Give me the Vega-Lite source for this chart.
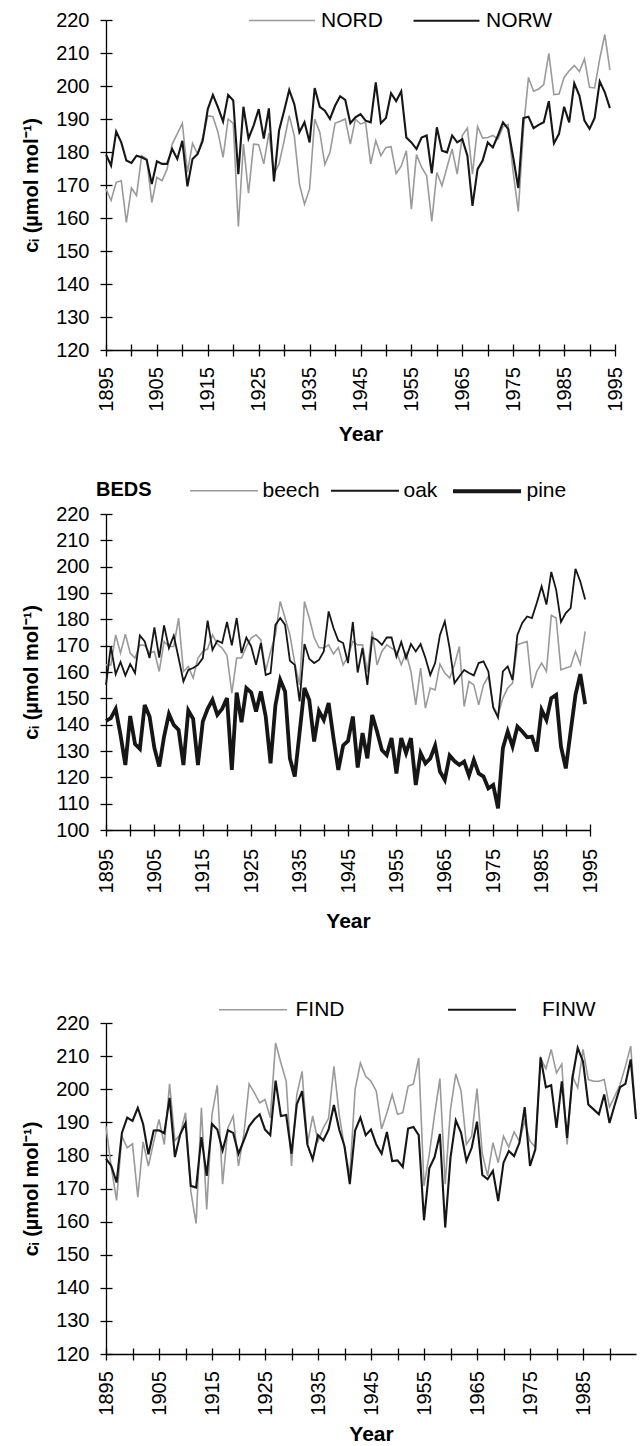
{
  "$schema": "https://vega.github.io/schema/vega-lite/v6.json",
  "padding": {"left": 21, "top": 8, "right": 2, "bottom": 0},
  "background": "white",
  "config": {
    "font": "Liberation Sans",
    "view": {"stroke": null},
    "axis": {"domainColor": "#000", "tickColor": "#000", "labelColor": "#000", "titleColor": "#000", "labelFontSize": 20, "titleFontSize": 21, "titleFontWeight": "bold", "grid": false, "tickSize": 6, "domainWidth": 1.3, "tickWidth": 1.3},
    "axisX": {"labelAngle": -90},
    "axisY": {"labelPadding": 11, "titlePadding": 14, "titleFontSize": 20},
    "legend": {"labelFontSize": 21, "labelColor": "#000", "titleColor": "#000", "padding": 0, "symbolType": "M-3,0H3"}
  },
  "resolve": {"scale": {"color": "independent", "strokeWidth": "independent"}},
  "datasets": {
    "nor": [
      {"year":1895,"NORD":168.8,"NORW":179.2},{"year":1896,"NORD":165.3,"NORW":175.9},{"year":1897,"NORD":170.8,"NORW":186.2},{"year":1898,"NORD":171.3,"NORW":182.9},{"year":1899,"NORD":158.7,"NORW":177.4},
      {"year":1900,"NORD":169.1,"NORW":176.7},{"year":1901,"NORD":166.8,"NORW":178.9},{"year":1902,"NORD":178.9,"NORW":178.4},{"year":1903,"NORD":177.9,"NORW":177.6},{"year":1904,"NORD":164.7,"NORW":170.3},
      {"year":1905,"NORD":172.3,"NORW":177.2},{"year":1906,"NORD":171.3,"NORW":176.4},{"year":1907,"NORD":174.8,"NORW":176.4},{"year":1908,"NORD":182.4,"NORW":180.9},{"year":1909,"NORD":185.5,"NORW":177.9},
      {"year":1910,"NORD":188.7,"NORW":183.4},{"year":1911,"NORD":173.8,"NORW":169.6},{"year":1912,"NORD":182.6,"NORW":177.9},{"year":1913,"NORD":179.4,"NORW":179.4},{"year":1914,"NORD":184.4,"NORW":183.4},
      {"year":1915,"NORD":191.0,"NORW":193.0},{"year":1916,"NORD":190.7,"NORW":197.3},{"year":1917,"NORD":186.0,"NORW":193.5},{"year":1918,"NORD":178.4,"NORW":189.2},{"year":1919,"NORD":190.0,"NORW":197.3},
      {"year":1920,"NORD":188.7,"NORW":195.6},{"year":1921,"NORD":157.4,"NORW":173.3},{"year":1922,"NORD":182.4,"NORW":193.7},{"year":1923,"NORD":167.5,"NORW":184.1},{"year":1924,"NORD":182.4,"NORW":188.0},
      {"year":1925,"NORD":182.2,"NORW":193.0},{"year":1926,"NORD":176.4,"NORW":184.1},{"year":1927,"NORD":185.7,"NORW":193.2},{"year":1928,"NORD":173.3,"NORW":171.1},{"year":1929,"NORD":176.4,"NORW":186.5},
      {"year":1930,"NORD":183.4,"NORW":192.5},{"year":1931,"NORD":191.0,"NORW":198.8},{"year":1932,"NORD":184.9,"NORW":194.5},{"year":1933,"NORD":170.3,"NORW":186.0},{"year":1934,"NORD":164.2,"NORW":189.0},
      {"year":1935,"NORD":168.8,"NORW":182.9},{"year":1936,"NORD":190.0,"NORW":199.4},{"year":1937,"NORD":186.0,"NORW":193.7},{"year":1938,"NORD":176.2,"NORW":192.5},{"year":1939,"NORD":179.9,"NORW":190.0},
      {"year":1940,"NORD":188.7,"NORW":194.0},{"year":1941,"NORD":189.3,"NORW":196.9},{"year":1942,"NORD":190.0,"NORW":195.8},{"year":1943,"NORD":182.4,"NORW":188.7},{"year":1944,"NORD":190.0,"NORW":190.5},
      {"year":1945,"NORD":188.5,"NORW":191.5},{"year":1946,"NORD":189.0,"NORW":189.5},{"year":1947,"NORD":176.4,"NORW":189.0},{"year":1948,"NORD":183.4,"NORW":201.1},{"year":1949,"NORD":178.9,"NORW":188.7},
      {"year":1950,"NORD":181.4,"NORW":190.3},{"year":1951,"NORD":181.6,"NORW":197.8},{"year":1952,"NORD":173.5,"NORW":195.4},{"year":1953,"NORD":175.7,"NORW":198.4},{"year":1954,"NORD":180.4,"NORW":184.4},
      {"year":1955,"NORD":162.7,"NORW":182.9},{"year":1956,"NORD":179.2,"NORW":180.9},{"year":1957,"NORD":175.4,"NORW":184.4},{"year":1958,"NORD":172.8,"NORW":185.0},{"year":1959,"NORD":159.0,"NORW":173.5},
      {"year":1960,"NORD":173.8,"NORW":187.5},{"year":1961,"NORD":169.8,"NORW":180.4},{"year":1962,"NORD":175.4,"NORW":179.9},{"year":1963,"NORD":180.9,"NORW":185.0},{"year":1964,"NORD":173.3,"NORW":182.9},
      {"year":1965,"NORD":185.0,"NORW":183.9},{"year":1966,"NORD":187.3,"NORW":178.9},{"year":1967,"NORD":173.3,"NORW":163.7},{"year":1968,"NORD":187.7,"NORW":174.8},{"year":1969,"NORD":184.2,"NORW":177.4},
      {"year":1970,"NORD":184.4,"NORW":182.9},{"year":1971,"NORD":185.0,"NORW":181.4},{"year":1972,"NORD":183.9,"NORW":185.0},{"year":1973,"NORD":187.7,"NORW":189.0},{"year":1974,"NORD":188.3,"NORW":187.0},
      {"year":1975,"NORD":173.8,"NORW":178.4},{"year":1976,"NORD":162.0,"NORW":169.1},{"year":1977,"NORD":186.7,"NORW":190.3},{"year":1978,"NORD":202.6,"NORW":190.7},{"year":1979,"NORD":198.4,"NORW":187.2},
      {"year":1980,"NORD":199.1,"NORW":188.2},{"year":1981,"NORD":200.4,"NORW":189.0},{"year":1982,"NORD":209.9,"NORW":195.4},{"year":1983,"NORD":197.4,"NORW":182.6},{"year":1984,"NORD":197.6,"NORW":185.5},
      {"year":1985,"NORD":202.6,"NORW":193.7},{"year":1986,"NORD":204.6,"NORW":189.0},{"year":1987,"NORD":206.2,"NORW":200.8},{"year":1988,"NORD":204.4,"NORW":197.1},{"year":1989,"NORD":208.2,"NORW":189.5},
      {"year":1990,"NORD":199.6,"NORW":187.0},{"year":1991,"NORD":199.4,"NORW":190.3},{"year":1992,"NORD":208.2,"NORW":201.4},{"year":1993,"NORD":215.6,"NORW":198.1},{"year":1994,"NORD":204.9,"NORW":193.3}
    ],
    "beds": [
      {"year":1895,"beech":162.7,"oak":155.1,"pine":141.4},{"year":1896,"beech":162.7,"oak":169.7,"pine":142.5},{"year":1897,"beech":174.1,"oak":159.2,"pine":146.0},{"year":1898,"beech":167.2,"oak":163.8,"pine":136.1},{"year":1899,"beech":174.4,"oak":158.7,"pine":124.7},
      {"year":1900,"beech":167.2,"oak":163.0,"pine":143.3},{"year":1901,"beech":165.3,"oak":159.6,"pine":132.6},{"year":1902,"beech":170.3,"oak":173.9,"pine":130.8},{"year":1903,"beech":170.1,"oak":171.6,"pine":147.5},{"year":1904,"beech":167.2,"oak":165.3,"pine":143.1},
      {"year":1905,"beech":167.8,"oak":176.9,"pine":131.1},{"year":1906,"beech":160.2,"oak":165.5,"pine":124.1},{"year":1907,"beech":171.6,"oak":177.7,"pine":135.5},{"year":1908,"beech":169.7,"oak":169.1,"pine":144.1},{"year":1909,"beech":169.7,"oak":173.8,"pine":139.9},
      {"year":1910,"beech":180.5,"oak":165.3,"pine":138.0},{"year":1911,"beech":160.2,"oak":156.4,"pine":124.7},{"year":1912,"beech":162.1,"oak":160.8,"pine":145.4},{"year":1913,"beech":157.7,"oak":161.5,"pine":142.2},{"year":1914,"beech":165.3,"oak":162.7,"pine":124.7},
      {"year":1915,"beech":167.8,"oak":165.3,"pine":141.2},{"year":1916,"beech":168.8,"oak":179.5,"pine":146.0},{"year":1917,"beech":174.1,"oak":168.4,"pine":149.4},{"year":1918,"beech":170.6,"oak":171.9,"pine":143.7},{"year":1919,"beech":169.1,"oak":171.0,"pine":146.0},
      {"year":1920,"beech":166.3,"oak":179.0,"pine":150.1},{"year":1921,"beech":152.0,"oak":170.1,"pine":122.8},{"year":1922,"beech":165.3,"oak":180.5,"pine":152.2},{"year":1923,"beech":165.3,"oak":167.2,"pine":140.9},{"year":1924,"beech":169.7,"oak":173.1,"pine":153.9},
      {"year":1925,"beech":172.9,"oak":169.7,"pine":152.2},{"year":1926,"beech":174.1,"oak":162.7,"pine":145.0},{"year":1927,"beech":172.2,"oak":171.0,"pine":152.6},{"year":1928,"beech":160.5,"oak":158.9,"pine":143.1},{"year":1929,"beech":167.8,"oak":159.6,"pine":125.3},
      {"year":1930,"beech":174.1,"oak":177.9,"pine":147.3},{"year":1931,"beech":186.8,"oak":180.5,"pine":157.0},{"year":1932,"beech":180.5,"oak":177.9,"pine":152.6},{"year":1933,"beech":174.1,"oak":164.3,"pine":127.2},{"year":1934,"beech":163.4,"oak":162.7,"pine":120.3},
      {"year":1935,"beech":155.1,"oak":148.8,"pine":137.0},{"year":1936,"beech":186.8,"oak":170.6,"pine":153.9},{"year":1937,"beech":180.5,"oak":165.0,"pine":149.4},{"year":1938,"beech":173.1,"oak":163.4,"pine":133.6},{"year":1939,"beech":169.3,"oak":164.6,"pine":145.2},
      {"year":1940,"beech":169.1,"oak":167.8,"pine":141.8},{"year":1941,"beech":170.3,"oak":183.0,"pine":148.2},{"year":1942,"beech":166.8,"oak":176.7,"pine":134.9},{"year":1943,"beech":169.3,"oak":171.9,"pine":122.8},{"year":1944,"beech":162.7,"oak":171.0,"pine":132.1},
      {"year":1945,"beech":165.9,"oak":163.4,"pine":133.8},{"year":1946,"beech":171.6,"oak":179.0,"pine":143.1},{"year":1947,"beech":170.3,"oak":159.8,"pine":123.7},{"year":1948,"beech":170.3,"oak":169.1,"pine":136.8},{"year":1949,"beech":160.0,"oak":155.1,"pine":127.2},
      {"year":1950,"beech":175.4,"oak":173.1,"pine":143.7},{"year":1951,"beech":162.7,"oak":172.2,"pine":137.4},{"year":1952,"beech":167.8,"oak":170.3,"pine":130.4},{"year":1953,"beech":170.3,"oak":173.1,"pine":128.5},{"year":1954,"beech":169.1,"oak":173.1,"pine":134.9},
      {"year":1955,"beech":167.8,"oak":165.9,"pine":121.5},{"year":1956,"beech":162.7,"oak":171.4,"pine":134.9},{"year":1957,"beech":167.2,"oak":165.3,"pine":129.2},{"year":1958,"beech":160.2,"oak":170.6,"pine":134.9},{"year":1959,"beech":147.5,"oak":167.8,"pine":117.1},
      {"year":1960,"beech":161.5,"oak":170.6,"pine":129.2},{"year":1961,"beech":146.3,"oak":165.3,"pine":125.3},{"year":1962,"beech":153.9,"oak":158.9,"pine":127.2},{"year":1963,"beech":153.2,"oak":163.4,"pine":132.1},{"year":1964,"beech":163.0,"oak":174.1,"pine":122.2},
      {"year":1965,"beech":159.6,"oak":179.2,"pine":119.0},{"year":1966,"beech":157.7,"oak":169.1,"pine":128.3},{"year":1967,"beech":162.7,"oak":155.8,"pine":126.2},{"year":1968,"beech":169.7,"oak":158.3,"pine":124.7},{"year":1969,"beech":146.9,"oak":160.8,"pine":126.0},
      {"year":1970,"beech":156.4,"oak":159.6,"pine":120.7},{"year":1971,"beech":155.1,"oak":158.7,"pine":126.6},{"year":1972,"beech":147.5,"oak":163.4,"pine":121.5},{"year":1973,"beech":155.1,"oak":164.0,"pine":120.3},{"year":1974,"beech":158.3,"oak":160.2,"pine":115.8},
      {"year":1975,"beech":146.9,"oak":146.5,"pine":117.1},{"year":1976,"beech":143.7,"oak":142.7,"pine":108.2},{"year":1977,"beech":150.1,"oak":160.2,"pine":131.1},{"year":1978,"beech":153.9,"oak":162.1,"pine":137.4},{"year":1979,"beech":155.8,"oak":157.0,"pine":131.7},
      {"year":1980,"beech":170.3,"oak":174.1,"pine":139.3},{"year":1981,"beech":171.0,"oak":178.6,"pine":137.4},{"year":1982,"beech":171.6,"oak":181.1,"pine":135.2},{"year":1983,"beech":153.9,"oak":180.5,"pine":135.5},{"year":1984,"beech":160.2,"oak":186.2,"pine":129.8},
      {"year":1985,"beech":163.4,"oak":192.5,"pine":145.6},{"year":1986,"beech":160.2,"oak":185.6,"pine":141.8},{"year":1987,"beech":181.5,"oak":198.0,"pine":150.1},{"year":1988,"beech":180.5,"oak":191.3,"pine":151.3},{"year":1989,"beech":160.8,"oak":179.0,"pine":131.7},
      {"year":1990,"beech":161.5,"oak":182.4,"pine":123.4},{"year":1991,"beech":162.1,"oak":184.3,"pine":137.4},{"year":1992,"beech":167.8,"oak":199.2,"pine":151.3},{"year":1993,"beech":163.0,"oak":194.4,"pine":159.2},{"year":1994,"beech":175.4,"oak":187.5,"pine":147.8}
    ],
    "fin": [
      {"year":1895,"FIND":188.8,"FINW":179.0},{"year":1896,"FIND":176.3,"FINW":176.8},{"year":1897,"FIND":166.4,"FINW":171.8},{"year":1898,"FIND":185.8,"FINW":186.8},{"year":1899,"FIND":182.3,"FINW":191.4},
      {"year":1900,"FIND":183.5,"FINW":190.4},{"year":1901,"FIND":167.4,"FINW":194.4},{"year":1902,"FIND":184.1,"FINW":189.5},{"year":1903,"FIND":176.8,"FINW":180.3},{"year":1904,"FIND":184.1,"FINW":187.5},
      {"year":1905,"FIND":190.9,"FINW":187.6},{"year":1906,"FIND":183.3,"FINW":186.7},{"year":1907,"FIND":201.6,"FINW":197.4},{"year":1908,"FIND":184.5,"FINW":179.5},{"year":1909,"FIND":186.3,"FINW":186.3},
      {"year":1910,"FIND":192.9,"FINW":189.8},{"year":1911,"FIND":169.2,"FINW":170.8},{"year":1912,"FIND":159.4,"FINW":170.3},{"year":1913,"FIND":194.4,"FINW":185.5},{"year":1914,"FIND":163.7,"FINW":173.8},
      {"year":1915,"FIND":192.4,"FINW":189.5},{"year":1916,"FIND":201.2,"FINW":187.8},{"year":1917,"FIND":171.3,"FINW":181.5},{"year":1918,"FIND":188.3,"FINW":187.6},{"year":1919,"FIND":191.9,"FINW":186.8},
      {"year":1920,"FIND":176.8,"FINW":180.5},{"year":1921,"FIND":186.3,"FINW":184.5},{"year":1922,"FIND":201.6,"FINW":188.8},{"year":1923,"FIND":198.9,"FINW":190.9},{"year":1924,"FIND":195.9,"FINW":192.4},
      {"year":1925,"FIND":196.9,"FINW":187.8},{"year":1926,"FIND":191.4,"FINW":186.1},{"year":1927,"FIND":214.0,"FINW":202.6},{"year":1928,"FIND":207.9,"FINW":191.9},{"year":1929,"FIND":202.4,"FINW":192.2},
      {"year":1930,"FIND":176.8,"FINW":180.5},{"year":1931,"FIND":198.4,"FINW":195.4},{"year":1932,"FIND":205.4,"FINW":199.4},{"year":1933,"FIND":183.3,"FINW":183.3},{"year":1934,"FIND":191.9,"FINW":178.8},
      {"year":1935,"FIND":184.3,"FINW":186.1},{"year":1936,"FIND":188.3,"FINW":184.5},{"year":1937,"FIND":191.2,"FINW":187.8},{"year":1938,"FIND":206.9,"FINW":195.2},{"year":1939,"FIND":192.4,"FINW":187.8},
      {"year":1940,"FIND":182.3,"FINW":182.8},{"year":1941,"FIND":174.0,"FINW":171.3},{"year":1942,"FIND":199.9,"FINW":187.5},{"year":1943,"FIND":207.9,"FINW":191.4},{"year":1944,"FIND":203.9,"FINW":186.1},
      {"year":1945,"FIND":202.4,"FINW":187.8},{"year":1946,"FIND":199.4,"FINW":183.3},{"year":1947,"FIND":188.0,"FINW":180.5},{"year":1948,"FIND":192.9,"FINW":187.1},{"year":1949,"FIND":198.4,"FINW":178.3},
      {"year":1950,"FIND":192.4,"FINW":178.5},{"year":1951,"FIND":192.9,"FINW":176.5},{"year":1952,"FIND":200.9,"FINW":188.1},{"year":1953,"FIND":201.6,"FINW":188.6},{"year":1954,"FIND":209.4,"FINW":186.1},
      {"year":1955,"FIND":170.8,"FINW":160.4},{"year":1956,"FIND":180.3,"FINW":176.1},{"year":1957,"FIND":192.4,"FINW":179.5},{"year":1958,"FIND":203.2,"FINW":186.5},{"year":1959,"FIND":171.3,"FINW":158.2},
      {"year":1960,"FIND":193.9,"FINW":179.3},{"year":1961,"FIND":204.6,"FINW":190.6},{"year":1962,"FIND":199.4,"FINW":186.8},{"year":1963,"FIND":183.3,"FINW":178.3},{"year":1964,"FIND":185.8,"FINW":182.3},
      {"year":1965,"FIND":200.2,"FINW":190.2},{"year":1966,"FIND":180.5,"FINW":174.1},{"year":1967,"FIND":173.8,"FINW":172.8},{"year":1968,"FIND":183.8,"FINW":175.3},{"year":1969,"FIND":177.8,"FINW":166.2},
      {"year":1970,"FIND":185.8,"FINW":177.8},{"year":1971,"FIND":182.5,"FINW":181.3},{"year":1972,"FIND":187.1,"FINW":179.8},{"year":1973,"FIND":184.3,"FINW":183.8},{"year":1974,"FIND":190.4,"FINW":194.6},
      {"year":1975,"FIND":184.3,"FINW":176.8},{"year":1976,"FIND":182.5,"FINW":181.8},{"year":1977,"FIND":209.4,"FINW":209.6},{"year":1978,"FIND":206.2,"FINW":200.6},{"year":1979,"FIND":212.0,"FINW":201.2},
      {"year":1980,"FIND":204.9,"FINW":188.3},{"year":1981,"FIND":207.6,"FINW":202.4},{"year":1982,"FIND":183.3,"FINW":185.3},{"year":1983,"FIND":203.9,"FINW":203.4},{"year":1984,"FIND":200.4,"FINW":212.5},
      {"year":1985,"FIND":212.0,"FINW":208.4},{"year":1986,"FIND":202.9,"FINW":195.4},{"year":1987,"FIND":202.4,"FINW":193.9},{"year":1988,"FIND":202.4,"FINW":192.4},{"year":1989,"FIND":202.9,"FINW":198.4},
      {"year":1990,"FIND":194.6,"FINW":189.8},{"year":1991,"FIND":197.9,"FINW":195.4},{"year":1992,"FIND":201.4,"FINW":200.6},{"year":1993,"FIND":206.9,"FINW":201.6},{"year":1994,"FIND":213.0,"FINW":209.0},
      {"year":1995,"FIND":191.0,"FINW":191.0}
    ]
  },
  "spacing": 65,
  "vconcat": [
    {
      "spacing": 32,
      "resolve": {"scale": {"color": "independent", "strokeWidth": "independent"}},
      "vconcat": [
        {
          "width": 509, "height": 330,
          "data": {"name": "nor"},
          "transform": [{"fold": ["NORD", "NORW"], "as": ["series", "ci"]}],
          "resolve": {"axis": {"x": "independent", "y": "independent"}},
          "layer": [
            {
              "mark": {"type": "line"},
              "encoding": {
                "x": {"field": "year", "type": "quantitative", "scale": {"domain": [1895, 1995], "nice": false, "zero": false},
                      "axis": {"orient": "bottom", "title": "Year", "format": "d", "values": [1895,1900,1905,1910,1915,1920,1925,1930,1935,1940,1945,1950,1955,1960,1965,1970,1975,1980,1985,1990,1995], "labelExpr": "(datum.value - 1895) % 10 == 0 ? datum.label : ''", "labelPadding": 10.7, "titlePadding": 12}},
                "y": {"field": "ci", "type": "quantitative", "scale": {"domain": [120, 220], "nice": false, "zero": false},
                      "axis": {"orient": "left", "title": "cᵢ (µmol mol⁻¹)", "values": [120,130,140,150,160,170,180,190,200,210,220]}},
                "color": {"field": "series", "type": "nominal", "scale": {"domain": ["NORD", "NORW"], "range": ["#9a9a9a", "#161616"]},
                          "legend": {"orient": "none", "legendX": 143, "legendY": -12, "direction": "horizontal", "title": null, "symbolSize": 484, "symbolOffset": 21, "labelOffset": 27, "columnPadding": 26}},
                "strokeWidth": {"field": "series", "type": "nominal", "scale": {"type": "ordinal", "domain": ["NORD", "NORW"], "range": [1.6, 2.1]},
                          "legend": {"orient": "none", "legendX": 143, "legendY": -12, "direction": "horizontal", "title": null, "symbolSize": 484, "symbolOffset": 21, "labelOffset": 27, "columnPadding": 26}}
              }
            },
            {
              "mark": {"type": "line", "opacity": 0},
              "encoding": {
                "x": {"field": "year", "type": "quantitative", "axis": {"orient": "bottom", "tickSize": -6, "labels": false, "domain": false, "title": null, "values": [1895,1900,1905,1910,1915,1920,1925,1930,1935,1940,1945,1950,1955,1960,1965,1970,1975,1980,1985,1990,1995]}},
                "y": {"field": "ci", "type": "quantitative", "axis": {"orient": "left", "tickSize": -6, "labels": false, "domain": false, "title": null, "values": [120,130,140,150,160,170,180,190,200,210,220]}},
                "detail": {"field": "series"}
              }
            }
          ]
        },
        {
          "width": 484, "height": 316,
          "data": {"name": "beds"},
          "transform": [{"fold": ["beech", "oak", "pine"], "as": ["series", "ci"]}],
          "resolve": {"axis": {"x": "independent", "y": "independent"}},
          "layer": [
            {
              "mark": {"type": "line"},
              "encoding": {
                "x": {"field": "year", "type": "quantitative", "scale": {"domain": [1895, 1995], "nice": false, "zero": false},
                      "axis": {"orient": "bottom", "title": "Year", "format": "d", "values": [1895,1900,1905,1910,1915,1920,1925,1930,1935,1940,1945,1950,1955,1960,1965,1970,1975,1980,1985,1990,1995], "labelExpr": "(datum.value - 1895) % 10 == 0 ? datum.label : ''", "labelPadding": 12.4, "titlePadding": 18}},
                "y": {"field": "ci", "type": "quantitative", "scale": {"domain": [100, 220], "nice": false, "zero": false},
                      "axis": {"orient": "left", "title": "cᵢ (µmol mol⁻¹)", "values": [100,110,120,130,140,150,160,170,180,190,200,210,220]}},
                "color": {"field": "series", "type": "nominal", "scale": {"domain": ["beech", "oak", "pine"], "range": ["#9a9a9a", "#161616", "#161616"]},
                          "legend": {"orient": "none", "legendX": -10, "legendY": -36.5, "direction": "horizontal", "title": "BEDS", "titleOrient": "left", "titleAnchor": "middle", "titleBaseline": "middle", "titleFontSize": 20, "titleFontWeight": "bold", "titlePadding": 38, "symbolSize": 514, "symbolOffset": 21.5, "labelOffset": 26, "columnPadding": 7}},
                "strokeWidth": {"field": "series", "type": "nominal", "scale": {"type": "ordinal", "domain": ["beech", "oak", "pine"], "range": [1.6, 1.8, 3.8]},
                          "legend": {"orient": "none", "legendX": -10, "legendY": -36.5, "direction": "horizontal", "title": "BEDS", "titleOrient": "left", "titleAnchor": "middle", "titleBaseline": "middle", "titleFontSize": 20, "titleFontWeight": "bold", "titlePadding": 38, "symbolSize": 514, "symbolOffset": 21.5, "labelOffset": 26, "columnPadding": 7}}
              }
            },
            {
              "mark": {"type": "line", "opacity": 0},
              "encoding": {
                "x": {"field": "year", "type": "quantitative", "axis": {"orient": "bottom", "tickSize": -6, "labels": false, "domain": false, "title": null, "values": [1895,1900,1905,1910,1915,1920,1925,1930,1935,1940,1945,1950,1955,1960,1965,1970,1975,1980,1985,1990,1995]}},
                "y": {"field": "ci", "type": "quantitative", "axis": {"orient": "left", "tickSize": -6, "labels": false, "domain": false, "title": null, "values": [100,110,120,130,140,150,160,170,180,190,200,210,220]}},
                "detail": {"field": "series"}
              }
            }
          ]
        }
      ]
    },
    {
      "width": 530, "height": 331,
      "data": {"name": "fin"},
      "transform": [{"fold": ["FIND", "FINW"], "as": ["series", "ci"]}],
      "resolve": {"axis": {"x": "independent", "y": "independent"}},
      "layer": [
        {
          "mark": {"type": "line"},
          "encoding": {
            "x": {"field": "year", "type": "quantitative", "scale": {"domain": [1895, 1995], "nice": false, "zero": false},
                  "axis": {"orient": "bottom", "title": "Year", "format": "d", "values": [1895,1900,1905,1910,1915,1920,1925,1930,1935,1940,1945,1950,1955,1960,1965,1970,1975,1980,1985,1990], "labelExpr": "(datum.value - 1895) % 10 == 0 ? datum.label : ''", "labelPadding": 10.7, "titlePadding": 8.5}},
            "y": {"field": "ci", "type": "quantitative", "scale": {"domain": [120, 220], "nice": false, "zero": false},
                  "axis": {"orient": "left", "title": "cᵢ (µmol mol⁻¹)", "values": [120,130,140,150,160,170,180,190,200,210,220]}},
            "color": {"field": "series", "type": "nominal", "scale": {"domain": ["FIND", "FINW"], "range": ["#9a9a9a", "#161616"]},
                      "legend": {"orient": "none", "legendX": 113, "legendY": -26, "direction": "horizontal", "title": null, "symbolSize": 514, "symbolOffset": 21.5, "labelOffset": 30, "columnPadding": 98, "labelExpr": "datum.label == 'FINW' ? '\u200b\u00a0\u00a0\u00a0FINW' : datum.label"}},
            "strokeWidth": {"field": "series", "type": "nominal", "scale": {"type": "ordinal", "domain": ["FIND", "FINW"], "range": [1.6, 2.1]},
                      "legend": {"orient": "none", "legendX": 113, "legendY": -26, "direction": "horizontal", "title": null, "symbolSize": 514, "symbolOffset": 21.5, "labelOffset": 30, "columnPadding": 98, "labelExpr": "datum.label == 'FINW' ? '\u200b\u00a0\u00a0\u00a0FINW' : datum.label"}}
          }
        },
        {
          "mark": {"type": "line", "opacity": 0},
          "encoding": {
            "x": {"field": "year", "type": "quantitative", "axis": {"orient": "bottom", "tickSize": -6, "labels": false, "domain": false, "title": null, "values": [1895,1900,1905,1910,1915,1920,1925,1930,1935,1940,1945,1950,1955,1960,1965,1970,1975,1980,1985,1990]}},
            "y": {"field": "ci", "type": "quantitative", "axis": {"orient": "left", "tickSize": -6, "labels": false, "domain": false, "title": null, "values": [120,130,140,150,160,170,180,190,200,210,220]}},
            "detail": {"field": "series"}
          }
        }
      ]
    }
  ]
}
